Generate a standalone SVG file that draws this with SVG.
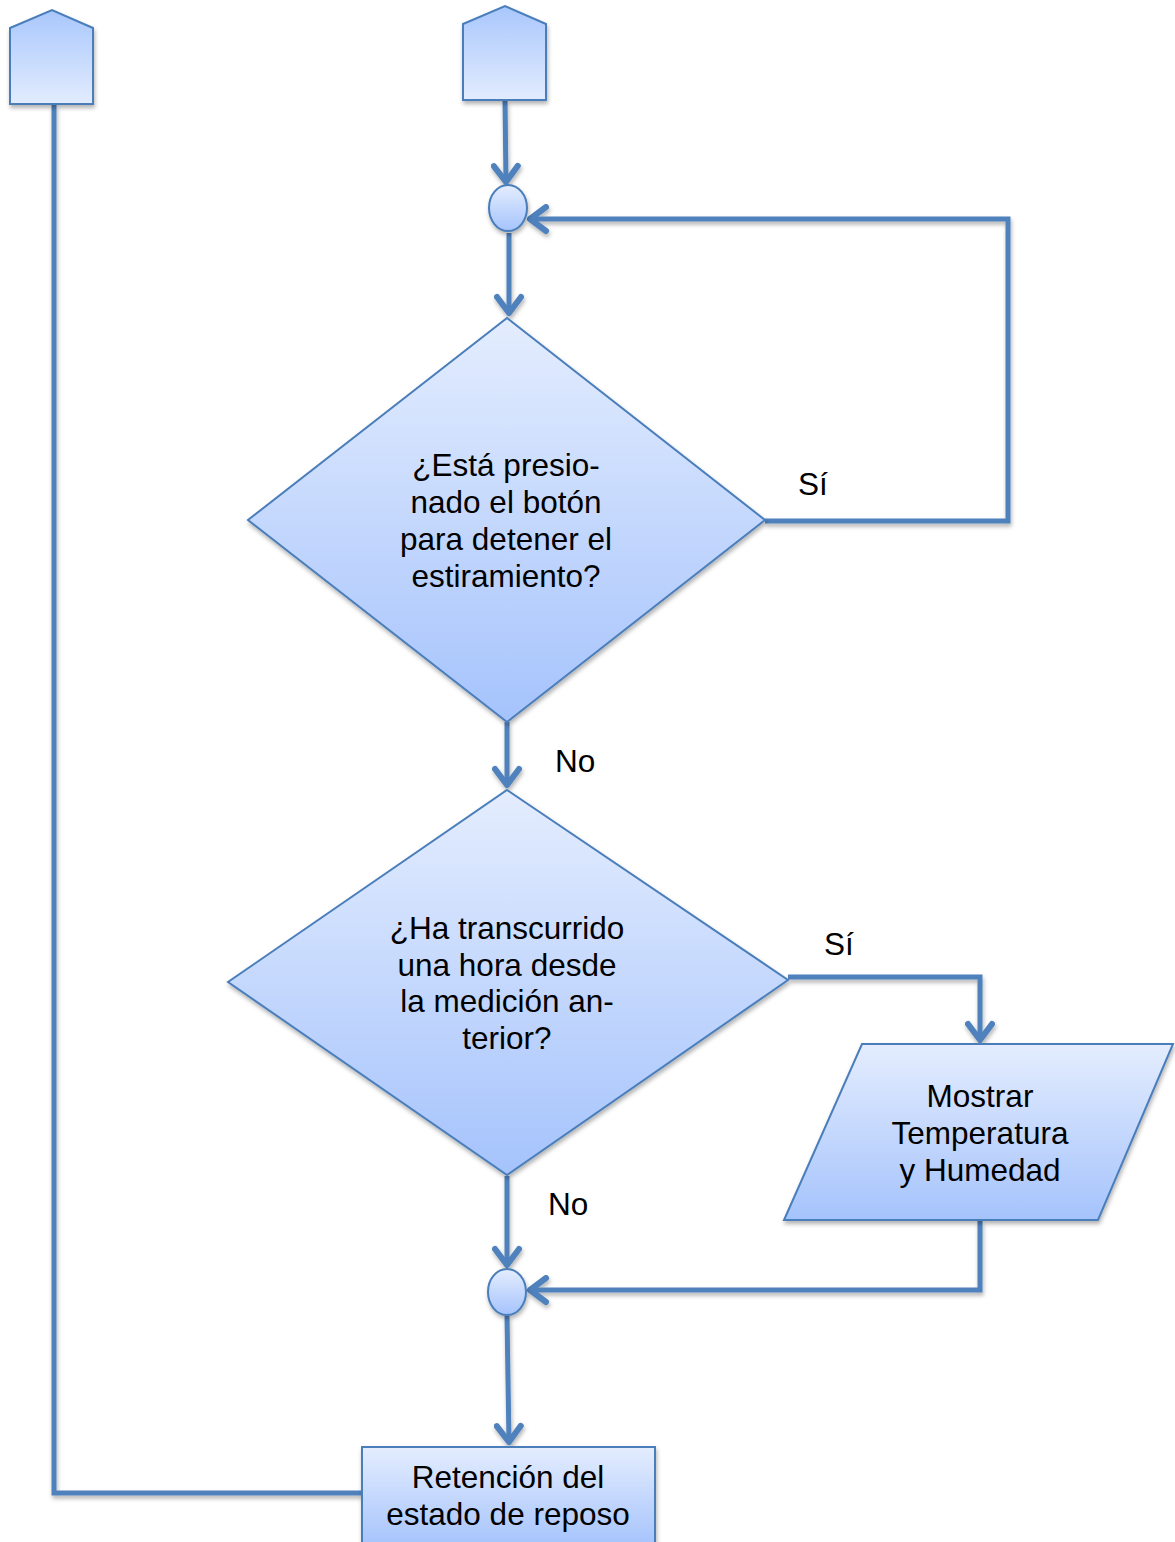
<svg xmlns="http://www.w3.org/2000/svg" width="1175" height="1542" viewBox="0 0 1175 1542">
<defs>
<linearGradient id="gDown" x1="0" y1="0" x2="0" y2="1">
<stop offset="0" stop-color="#e4edfe"/>
<stop offset="1" stop-color="#a5c3fc"/>
</linearGradient>
<linearGradient id="gUp" x1="0" y1="0" x2="0" y2="1">
<stop offset="0" stop-color="#a9c7fc"/>
<stop offset="1" stop-color="#e2ecfe"/>
</linearGradient>
<filter id="sh" filterUnits="userSpaceOnUse" x="-50" y="-50" width="1300" height="1700">
<feDropShadow dx="1" dy="3" stdDeviation="2" flood-color="#000" flood-opacity="0.3"/>
</filter>
<marker id="arr" viewBox="0 0 28 30" refX="21" refY="15" markerWidth="28" markerHeight="30" markerUnits="userSpaceOnUse" orient="auto">
<path d="M5,3 L21,15 L5,27" fill="none" stroke="#4f81bd" stroke-width="6" stroke-linecap="round" stroke-linejoin="round"/>
</marker>
</defs>
<style>
.shape{stroke:#4a7ebb;stroke-width:2;filter:url(#sh)}
.down{fill:url(#gDown)}
.up{fill:url(#gUp)}
.conn{fill:none;stroke:#4f81bd;stroke-width:5;filter:url(#sh)}
text{font-family:"Liberation Sans",Arial,sans-serif;font-size:31.5px;fill:#000}
.c{text-anchor:middle}
</style>
<g id="connectors">
<path class="conn" d="M505,101 L506,182" marker-end="url(#arr)"/>
<path class="conn" d="M509,233 L509,313" marker-end="url(#arr)"/>
<path class="conn" d="M765,521 L1008,521 L1008,219 L530,219" marker-end="url(#arr)"/>
<path class="conn" d="M507,722 L507,785" marker-end="url(#arr)"/>
<path class="conn" d="M788,977 L980,977 L980,1040" marker-end="url(#arr)"/>
<path class="conn" d="M507,1176 L507,1265" marker-end="url(#arr)"/>
<path class="conn" d="M980,1221 L980,1290 L530,1290" marker-end="url(#arr)"/>
<path class="conn" d="M507,1316 L509,1442" marker-end="url(#arr)"/>
<path class="conn" d="M362,1493 L54,1493 L54,105"/>
</g>
<g id="offpage-left">
<path class="shape up" d="M10,28 L52,10 L93,28 L93,104 L10,104 Z"/>
</g>
<g id="offpage-top">
<path class="shape up" d="M463,24 L505,6 L546,24 L546,100 L463,100 Z"/>
</g>
<g id="junction-1">
<ellipse class="shape down" cx="508" cy="208" rx="19" ry="23"/>
</g>
<g id="decision-1">
<path class="shape down" d="M507,318 L765,520 L507,722 L248,520 Z"/>
<text class="c" x="506" y="476">¿Está presio-</text>
<text class="c" x="506" y="513">nado el botón</text>
<text class="c" x="506" y="550">para detener el</text>
<text class="c" x="506" y="587">estiramiento?</text>
</g>
<g id="decision-2">
<path class="shape down" d="M507,790 L788,980 L507,1175 L228,982 Z"/>
<text class="c" x="507" y="939">¿Ha transcurrido</text>
<text class="c" x="507" y="976">una hora desde</text>
<text class="c" x="507" y="1012">la medición an-</text>
<text class="c" x="507" y="1049">terior?</text>
</g>
<g id="output-display">
<path class="shape down" d="M862,1044 L1173,1044 L1098,1220 L784,1220 Z"/>
<text class="c" x="980" y="1107">Mostrar</text>
<text class="c" x="980" y="1144">Temperatura</text>
<text class="c" x="980" y="1181">y Humedad</text>
</g>
<g id="junction-2">
<ellipse class="shape down" cx="507" cy="1292" rx="19" ry="23"/>
</g>
<g id="process-rest">
<rect class="shape down" x="362" y="1447" width="293" height="100"/>
<text class="c" x="508" y="1488">Retención del</text>
<text class="c" x="508" y="1525">estado de reposo</text>
</g>
<g id="labels">
<text x="798" y="495">Sí</text>
<text x="555" y="772">No</text>
<text x="824" y="955">Sí</text>
<text x="548" y="1215">No</text>
</g>
</svg>
